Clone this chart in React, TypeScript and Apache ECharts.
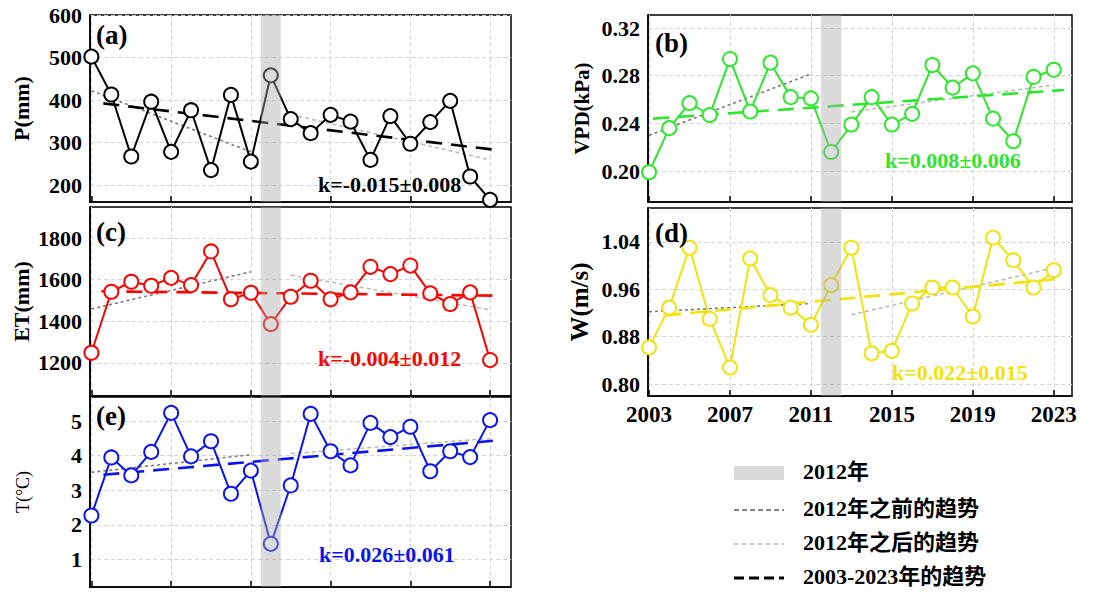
import React, { useEffect, useRef } from "react";
import * as echarts from "echarts";

// ---------------- data ----------------
const years = [2003, 2004, 2005, 2006, 2007, 2008, 2009, 2010, 2011, 2012, 2013, 2014, 2015, 2016, 2017, 2018, 2019, 2020, 2021, 2022, 2023];
const yearTicks = [2003, 2007, 2011, 2015, 2019, 2023];

const P = [502, 413, 267, 396, 278, 376, 235, 412, 255, 458, 355, 322, 365, 349, 259, 362, 297, 348, 398, 220, 165];
const VPD = [0.199, 0.236, 0.257, 0.247, 0.294, 0.25, 0.291, 0.262, 0.261, 0.216, 0.239, 0.262, 0.239, 0.248, 0.289, 0.27, 0.282, 0.244, 0.225, 0.279, 0.285];
const ET = [1248, 1542, 1590, 1571, 1609, 1574, 1736, 1506, 1537, 1386, 1518, 1595, 1506, 1539, 1662, 1627, 1668, 1534, 1483, 1539, 1213];
const W = [0.862, 0.929, 1.03, 0.91, 0.828, 1.012, 0.95, 0.929, 0.9, 0.967, 1.03, 0.852, 0.856, 0.936, 0.963, 0.963, 0.914, 1.047, 1.009, 0.963, 0.992];
const T = [2.27, 3.95, 3.43, 4.11, 5.24, 3.98, 4.42, 2.9, 3.57, 1.45, 3.14, 5.21, 4.13, 3.72, 4.95, 4.54, 4.84, 3.55, 4.13, 3.96, 5.03];

const pTicks = [200, 300, 400, 500, 600];
const vpdTicks = [0.2, 0.24, 0.28, 0.32];
const etTicks = [1200, 1400, 1600, 1800];
const wTicks = [0.8, 0.88, 0.96, 1.04];
const tTicks = [1, 2, 3, 4, 5];

// trend endpoints [year, value]
const pBefore = [[2003, 422], [2011, 278]];
const pAfter = [[2012.7, 369], [2023, 259]];
const pAll = [[2003.6, 392], [2023.4, 282]];
const vpdBefore = [[2003, 0.23], [2011, 0.2815]];
const vpdAfter = [[2013, 0.2497], [2023, 0.2722]];
const vpdAll = [[2003.2, 0.244], [2023.5, 0.268]];
const etBefore = [[2003, 1459], [2011, 1638]];
const etAfter = [[2013, 1622], [2023, 1455]];
const etAll = [[2003.5, 1544], [2023.4, 1523]];
const wBefore = [[2003, 0.922], [2011, 0.936]];
const wAfter = [[2013, 0.917], [2023, 0.996]];
const wAll = [[2003.8, 0.916], [2023.4, 0.978]];
const tBefore = [[2003, 3.52], [2011, 4.03]];
const tAfter = [[2013, 4.06], [2023, 4.5]];
const tAll = [[2003.6, 3.45], [2023.5, 4.45]];

const band2012 = [2011.5, 2012.5];

const panelLabels = ["(a)", "(b)", "(c)", "(d)", "(e)"];
const kTexts = ["k=-0.015±0.008", "k=0.008±0.006", "k=-0.004±0.012", "k=0.022±0.015", "k=0.026±0.061"];
const axisNames = ["P(mm)", "VPD(kPa)", "ET(mm)", "W(m/s)", "T(°C)"];
const legendLabels = ["2012年", "2012年之前的趋势", "2012年之后的趋势", "2003-2023年的趋势"];

// ---------------- layout / style ----------------
const FONT = "'Liberation Serif', 'Times New Roman', 'Noto Sans CJK SC', serif";

const panels = [
  { vals: P, ticks: pTicks, before: pBefore, after: pAfter, all: pAll, color: "#000000", min: 160, max: 600, dec: 0,
    grid: { left: 90, top: 15, width: 421, height: 187 }, xr: [2002.93, 2024.05], showX: false,
    label: { x: 96, y: 35 }, k: { x: 318, y: 185 }, nameGap: 58, nameSize: 22, nameWeight: "bold" },
  { vals: VPD, ticks: vpdTicks, before: vpdBefore, after: vpdAfter, all: vpdAll, color: "#2ee62e", min: 0.174, max: 0.331, dec: 2,
    grid: { left: 648, top: 15, width: 424, height: 187 }, xr: [2002.95, 2023.9], showX: false,
    label: { x: 655, y: 43 }, k: { x: 885, y: 161 }, nameGap: 56, nameSize: 21, nameWeight: "bold" },
  { vals: ET, ticks: etTicks, before: etBefore, after: etAfter, all: etAll, color: "#ff0000", min: 1040, max: 1950, dec: 0,
    grid: { left: 90, top: 207, width: 421, height: 189 }, xr: [2002.93, 2024.05], showX: false,
    label: { x: 96, y: 232 }, k: { x: 318, y: 359 }, nameGap: 58, nameSize: 22, nameWeight: "bold" },
  { vals: W, ticks: wTicks, before: wBefore, after: wAfter, all: wAll, color: "#f2e20a", min: 0.78, max: 1.097, dec: 2,
    grid: { left: 648, top: 208, width: 424, height: 188 }, xr: [2002.95, 2023.9], showX: true,
    label: { x: 655, y: 233 }, k: { x: 892, y: 373 }, nameGap: 56, nameSize: 25, nameWeight: "bold" },
  { vals: T, ticks: tTicks, before: tBefore, after: tAfter, all: tAll, color: "#0a14f0", min: 0.2, max: 5.7, dec: 0,
    grid: { left: 90, top: 397, width: 421, height: 190 }, xr: [2002.93, 2024.05], showX: false,
    label: { x: 96, y: 416 }, k: { x: 319, y: 555 }, nameGap: 58, nameSize: 18, nameWeight: "normal" },
];

function buildOption() {
  const grid: any[] = [];
  const xAxis: any[] = [];
  const yAxis: any[] = [];
  const series: any[] = [];
  const graphic: any[] = [];

  panels.forEach((p, i) => {
    grid.push({ ...p.grid, show: true, borderColor: "#000", borderWidth: 1.5, backgroundColor: "transparent" });
    xAxis.push({
      type: "value", gridIndex: i, min: p.xr[0], max: p.xr[1],
      axisLine: { show: true, lineStyle: { color: "#000", width: 1.5 } },
      axisTick: { show: true, inside: true, length: 6, customValues: yearTicks, lineStyle: { color: "#000", width: 1.5 } },
      axisLabel: { show: p.showX, customValues: yearTicks, color: "#000", fontFamily: FONT, fontWeight: "bold", fontSize: 23, margin: 7,
        formatter: (v: number) => String(Math.round(v)) },
      splitLine: { show: true, lineStyle: { color: "#d4d4d4", type: [4, 3], width: 1 } },
    });
    yAxis.push({
      type: "value", gridIndex: i, min: p.min, max: p.max,
      name: axisNames[i], nameLocation: "middle", nameGap: p.nameGap,
      nameTextStyle: { color: "#000", fontFamily: FONT, fontWeight: p.nameWeight, fontSize: p.nameSize },
      axisLine: { show: true, lineStyle: { color: "#000", width: 1.5 } },
      axisTick: { show: false, customValues: p.ticks },
      axisLabel: { customValues: p.ticks, color: "#000", fontFamily: FONT, fontWeight: "bold", fontSize: 22, margin: 8,
        formatter: (v: number) => v.toFixed(p.dec) },
      splitLine: { show: true, lineStyle: { color: "#d4d4d4", type: [4, 3], width: 1 } },
    });

    series.push({
      type: "line", xAxisIndex: i, yAxisIndex: i, z: 2, silent: true,
      data: p.before, symbol: "none", lineStyle: { color: "#7a7a7a", width: 1.6, type: [3, 3] },
    });
    series.push({
      type: "line", xAxisIndex: i, yAxisIndex: i, z: 2, silent: true,
      data: p.after, symbol: "none", lineStyle: { color: "#bcbcbc", width: 1.6, type: [4, 3] },
    });
    series.push({
      type: "line", xAxisIndex: i, yAxisIndex: i, z: 2, silent: true,
      data: p.all, symbol: "none", lineStyle: { color: p.color, width: 2.6, type: [16, 9] },
    });
    series.push({
      type: "line", xAxisIndex: i, yAxisIndex: i, z: 3, silent: true,
      data: years.map((y, j) => [y, p.vals[j]]),
      symbol: "emptyCircle", symbolSize: 14,
      lineStyle: { color: p.color, width: 2 },
      itemStyle: { color: p.color, borderColor: p.color, borderWidth: 2 },
    });
    series.push({
      type: "line", xAxisIndex: i, yAxisIndex: i, z: 10, silent: true, data: [],
      markArea: {
        silent: true, z: 10,
        itemStyle: { color: "rgba(170,170,170,0.42)" },
        data: [[{ xAxis: band2012[0] }, { xAxis: band2012[1] }]],
      },
    });

    graphic.push({
      type: "text", left: p.label.x, top: p.label.y - 14, z: 20,
      style: { text: panelLabels[i], fontFamily: FONT, fontWeight: "bold", fontSize: 27, fill: "#000" },
    });
    graphic.push({
      type: "text", left: p.k.x, top: p.k.y - 12, z: 20,
      style: { text: kTexts[i], fontFamily: FONT, fontWeight: "bold", fontSize: 22, fill: p.color },
    });
  });

  // legend
  const lx = 734;
  const ly = [473, 510, 544, 578];
  graphic.push({ type: "rect", shape: { x: lx, y: ly[0] - 7, width: 50, height: 14 }, style: { fill: "#d9d9d9" } });
  graphic.push({ type: "line", shape: { x1: lx, y1: ly[1], x2: lx + 50, y2: ly[1] }, style: { stroke: "#808080", lineWidth: 2, lineDash: [5, 3] } });
  graphic.push({ type: "line", shape: { x1: lx, y1: ly[2], x2: lx + 50, y2: ly[2] }, style: { stroke: "#c8c8c8", lineWidth: 2, lineDash: [5, 3] } });
  graphic.push({ type: "line", shape: { x1: lx, y1: ly[3], x2: lx + 50, y2: ly[3] }, style: { stroke: "#000", lineWidth: 3.2, lineDash: [10, 5] } });
  legendLabels.forEach((t, i) => {
    graphic.push({
      type: "text", left: 803, top: ly[i] - 13,
      style: { text: t, fontFamily: FONT, fontWeight: "bold", fontSize: 22, fill: "#000" },
    });
  });

  return { animation: false, backgroundColor: "#fff", grid, xAxis, yAxis, series, graphic };
}

export default function App() {
  const ref = useRef<HTMLDivElement>(null);
  useEffect(() => {
    if (!ref.current) return;
    const chart = echarts.init(ref.current, undefined, { renderer: "svg" });
    chart.setOption(buildOption() as any);
    return () => chart.dispose();
  }, []);
  return <div ref={ref} style={{ position: "absolute", left: 0, top: 0, width: 1113, height: 592 }} />;
}
